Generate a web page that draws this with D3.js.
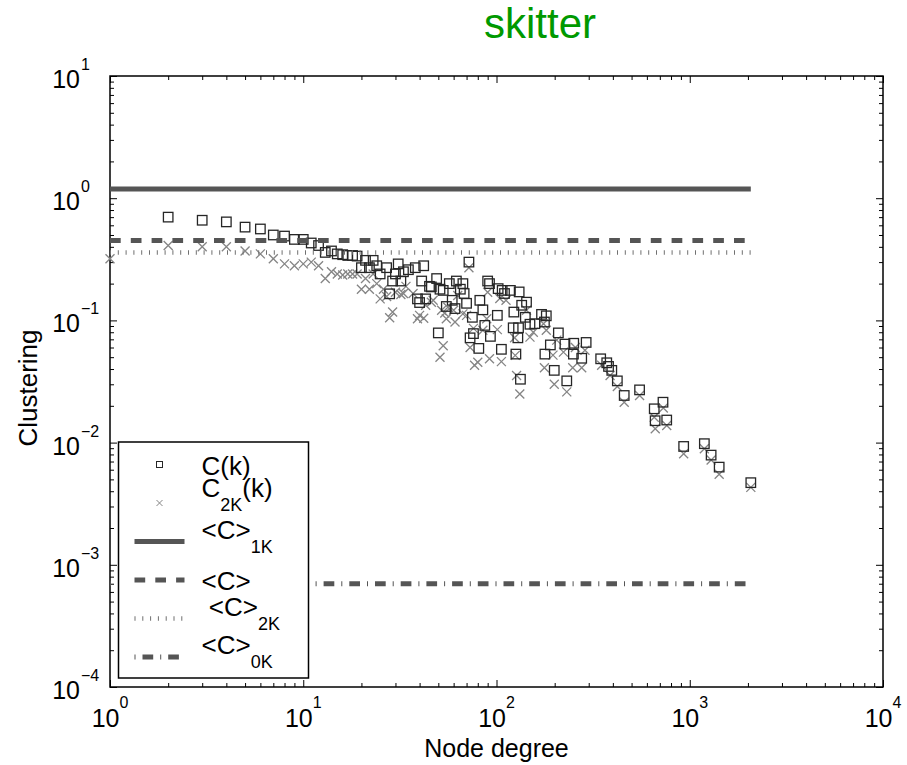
<!DOCTYPE html>
<html>
<head>
  <meta charset="utf-8">
  <style>
    body {
      margin: 0;
      background: #fff;
    }

    svg {
      display: block;
      font-family: "Liberation Sans", Arial, Helvetica, sans-serif;
    }

    .tick line {
      stroke: #000;
      stroke-width: 1;
    }

    .domain {
      display: none;
    }
  </style>
</head>

<body>
  <svg id="chart" width="907" height="765"></svg>

  <script src="https://d3js.org/d3.v7.min.js"></script>
  <script>
    // C(k): degree and clustering
    const degreeC = [2, 3, 4, 5, 6, 7, 8, 9, 10, 11, 12, 13, 14, 15, 16, 17, 18, 19, 20, 21, 22, 23, 24, 25, 27, 28, 29, 30,
      31, 32, 33, 35, 38, 39, 40, 41, 42, 43, 45, 46, 49, 50, 51, 53, 55, 57, 59, 61, 62, 65, 67, 68, 70, 72, 73, 75, 76,
      81, 82, 85, 87, 90, 92, 93, 101, 102, 106, 107, 110, 118, 122, 123, 126, 129, 130, 131, 133, 135, 141, 143, 149,
      158, 171, 177, 178, 181, 190, 199, 209, 226, 231, 250, 251, 276, 291, 346, 372, 380, 395, 422, 458, 550, 655, 662,
      727, 760, 930, 1190, 1290, 1420, 2070
    ];
    const clusteringC = [0.70, 0.66, 0.64, 0.58, 0.56, 0.50, 0.49, 0.46, 0.46, 0.43, 0.41, 0.36, 0.37, 0.35, 0.345, 0.34,
      0.34, 0.336, 0.27, 0.31, 0.27, 0.31, 0.28, 0.24, 0.27, 0.165, 0.21, 0.24, 0.29, 0.21, 0.25, 0.26, 0.27, 0.15, 0.14,
      0.21, 0.28, 0.15, 0.19, 0.188, 0.22, 0.079, 0.18, 0.176, 0.13, 0.20, 0.146, 0.125, 0.21, 0.18, 0.20, 0.166, 0.138,
      0.30, 0.072, 0.106, 0.078, 0.059, 0.146, 0.122, 0.091, 0.21, 0.20, 0.074, 0.11, 0.182, 0.058, 0.176, 0.166, 0.176,
      0.087, 0.117, 0.053, 0.072, 0.087, 0.171, 0.033, 0.133, 0.106, 0.141, 0.093, 0.094, 0.112, 0.097, 0.053, 0.109,
      0.063, 0.039, 0.079, 0.064, 0.032, 0.053, 0.065, 0.049, 0.066, 0.0485, 0.045, 0.042, 0.039, 0.032, 0.0243, 0.027,
      0.0189, 0.0151, 0.0214, 0.0153, 0.0093, 0.0098, 0.0079, 0.0063, 0.0047
    ];

    // C_2K(k)
    const degree2K = [1, 2, 3, 4, 5, 6, 7, 8, 9, 10, 11, 12, 13, 14, 15, 16, 17, 18, 19, 20, 21, 22, 23, 24, 25, 26, 27, 28,
      29, 30, 32, 33, 34, 37, 39, 40, 42, 43, 46, 47, 51, 52, 53, 54, 55, 56, 60, 61, 63, 67, 70, 72, 73, 76, 77, 80, 85,
      89, 90, 92, 101, 104, 106, 112, 124, 125, 127, 132, 143, 149, 155, 175, 177, 181, 196, 199, 205, 222, 231, 248, 256,
      276, 287, 350, 387, 422, 458, 550, 655, 663, 730, 760, 930, 1190, 1290, 1420, 2070
    ];
    const clustering2K = [0.32, 0.41, 0.40, 0.40, 0.37, 0.35, 0.32, 0.29, 0.28, 0.29, 0.30, 0.28, 0.22, 0.25, 0.24, 0.235,
      0.24, 0.24, 0.24, 0.18, 0.22, 0.18, 0.24, 0.20, 0.15, 0.18, 0.157, 0.105, 0.117, 0.17, 0.163, 0.166, 0.19, 0.166,
      0.103, 0.11, 0.104, 0.133, 0.141, 0.146, 0.05, 0.121, 0.062, 0.115, 0.103, 0.128, 0.121, 0.097, 0.16, 0.113, 0.11,
      0.27, 0.060, 0.086, 0.043, 0.0455, 0.083, 0.103, 0.17, 0.0485, 0.084, 0.151, 0.046, 0.146, 0.072, 0.0517, 0.0354,
      0.025, 0.121, 0.073, 0.080, 0.094, 0.041, 0.083, 0.052, 0.030, 0.069, 0.055, 0.026, 0.041, 0.060, 0.041, 0.057,
      0.043, 0.0354, 0.0288, 0.0214, 0.0243, 0.0161, 0.0130, 0.0192, 0.0138, 0.0081, 0.0089, 0.0072, 0.0055, 0.0043
    ];

    // average clustering levels, drawn from k = 1 to the largest degree
    const avgValues = [1.19, 0.45, 0.36, 0.0007];
    const degreeRange = [1, 2070];

    const majorX = [1, 10, 100, 1000, 10000];
    const majorY = [1e-4, 1e-3, 1e-2, 1e-1, 1, 10];

    // legend: main text, subscript, trailing text
    const legendMain = ["C(k)", "C", "<C>", "<C>", " <C>", "<C>"];
    const legendSub = ["", "2K", "1K", "", "2K", "0K"];
    const legendTail = ["", "(k)", "", "", "", ""];

    const lineDash = [null, "10.7,10.1", "1,6.8", "1,7,10.7,7"];
    const lineWidth = [5, 5, 4.5, 5];
    const lineColor = ["#555", "#555", "#707070", "#555"];

    const svg = d3.select("#chart");
    const margin = {
        top: 76,
        right: 24,
        bottom: 78,
        left: 110
      },
      width = 907 - margin.left - margin.right,
      height = 765 - margin.top - margin.bottom;

    const g = svg.append("g")
      .attr("transform", "translate(" + margin.left + "," + margin.top + ")");

    const x = d3.scaleLog().domain([1, 1e4]).range([0, width]);
    const y = d3.scaleLog().domain([1e-4, 10]).range([height, 0]);

    // minor ticks 2..9 in each decade
    const minorX = [],
      minorY = [];
    majorX.slice(0, -1).forEach(d => d3.range(2, 10).forEach(m => minorX.push(m * d)));
    majorY.slice(0, -1).forEach(d => d3.range(2, 10).forEach(m => minorY.push(m * d)));

    function addTicks(axisFn, scale, values, size, shift) {
      g.append("g")
        .attr("transform", shift)
        .call(axisFn(scale).tickValues(values).tickSize(-size).tickSizeOuter(0).tickFormat(""));
    }

    [[majorX, 7], [minorX, 4]].forEach(([v, s]) => {
      addTicks(d3.axisBottom, x, v, s, "translate(0," + height + ")");
      addTicks(d3.axisTop, x, v, s, "translate(0,0)");
    });
    [[majorY, 7], [minorY, 4]].forEach(([v, s]) => {
      addTicks(d3.axisLeft, y, v, s, "translate(0,0)");
      addTicks(d3.axisRight, y, v, s, "translate(" + width + ",0)");
    });

    g.append("rect")
      .attr("width", width)
      .attr("height", height)
      .attr("fill", "none")
      .attr("stroke", "#000")
      .attr("stroke-width", 1.5);

    const expo = d => String(Math.round(Math.log10(d))).replace("-", "\u2212");

    // x tick labels
    g.selectAll(".xlab")
      .data(majorX)
      .join("text")
      .attr("class", "xlab")
      .attr("x", d => x(d))
      .attr("y", height + 40)
      .attr("text-anchor", "middle")
      .attr("font-size", 25)
      .each(function(d) {
        const t = d3.select(this);
        t.append("tspan").text("10");
        t.append("tspan").attr("dy", -19).attr("font-size", 16).text(expo(d));
      });

    // y tick labels
    g.selectAll(".ylab")
      .data(majorY)
      .join("text")
      .attr("class", "ylab")
      .attr("x", -30)
      .attr("y", d => y(d) + 12)
      .attr("text-anchor", "end")
      .attr("font-size", 25)
      .text("10");

    g.selectAll(".yexp")
      .data(majorY)
      .join("text")
      .attr("class", "yexp")
      .attr("x", -29)
      .attr("y", d => y(d) - 6)
      .attr("font-size", 16)
      .text(d => expo(d));

    // scatter: C_2K(k) crosses
    const cross = 4.5;
    g.append("g")
      .selectAll("path")
      .data(d3.zip(degree2K, clustering2K))
      .join("path")
      .attr("d", d => {
        const cx = x(d[0]),
          cy = y(d[1]);
        return `M${cx - cross},${cy - cross}L${cx + cross},${cy + cross}M${cx - cross},${cy + cross}L${cx + cross},${cy - cross}`;
      })
      .attr("stroke", "#858585")
      .attr("stroke-width", 1.3)
      .attr("fill", "none");

    // scatter: C(k) squares
    const side = 9.5;
    g.append("g")
      .selectAll("rect")
      .data(d3.zip(degreeC, clusteringC))
      .join("rect")
      .attr("x", d => x(d[0]) - side / 2)
      .attr("y", d => y(d[1]) - side / 2)
      .attr("width", side)
      .attr("height", side)
      .attr("fill", "none")
      .attr("stroke", "#262626")
      .attr("stroke-width", 1.3);

    // average levels
    g.append("g")
      .selectAll("line")
      .data(avgValues)
      .join("line")
      .attr("x1", x(degreeRange[0]))
      .attr("x2", x(degreeRange[1]))
      .attr("y1", d => y(d))
      .attr("y2", d => y(d))
      .attr("stroke", (d, i) => lineColor[i])
      .attr("stroke-width", (d, i) => lineWidth[i])
      .attr("stroke-dasharray", (d, i) => lineDash[i]);

    // legend
    const legend = svg.append("g").attr("transform", "translate(118.5,442)");
    legend.append("rect")
      .attr("width", 190)
      .attr("height", 236)
      .attr("fill", "#fff")
      .attr("stroke", "#000")
      .attr("stroke-width", 1.5);

    const rowY = i => 22.5 + i * 38.5;

    legend.append("rect")
      .attr("x", 38).attr("y", rowY(0) - 3)
      .attr("width", 6).attr("height", 6)
      .attr("fill", "none").attr("stroke", "#262626").attr("stroke-width", 1);
    legend.append("path")
      .attr("d", `M38,${rowY(1) - 3}l6,6M38,${rowY(1) + 3}l6,-6`)
      .attr("stroke", "#858585").attr("stroke-width", 1);

    avgValues.forEach((v, i) => {
      legend.append("line")
        .attr("x1", 16).attr("x2", 66)
        .attr("y1", rowY(i + 2)).attr("y2", rowY(i + 2))
        .attr("stroke", lineColor[i])
        .attr("stroke-width", lineWidth[i])
        .attr("stroke-dasharray", lineDash[i]);
    });

    legendMain.forEach((m, i) => {
      const t = legend.append("text")
        .attr("x", 83)
        .attr("y", rowY(i) + (legendSub[i] ? (legendTail[i] ? -6 : -3) : 10))
        .attr("font-size", 26)
        .style("white-space", "pre");
      t.append("tspan").text(m);
      if (legendSub[i]) {
        t.append("tspan").attr("dy", 14).attr("font-size", 18).text(legendSub[i]);
      }
      if (legendTail[i]) {
        t.append("tspan").attr("dy", -14).attr("font-size", 26).text(legendTail[i]);
      }
    });

    // titles
    svg.append("text")
      .attr("x", 540)
      .attr("y", 38)
      .attr("text-anchor", "middle")
      .attr("font-size", 42)
      .attr("fill", "#009900")
      .text("skitter");

    svg.append("text")
      .attr("x", margin.left + width / 2)
      .attr("y", 757)
      .attr("text-anchor", "middle")
      .attr("font-size", 25)
      .text("Node degree");

    svg.append("text")
      .attr("transform", "translate(37,388) rotate(-90)")
      .attr("text-anchor", "middle")
      .attr("font-size", 26)
      .text("Clustering");
  </script>
</body>

</html>
